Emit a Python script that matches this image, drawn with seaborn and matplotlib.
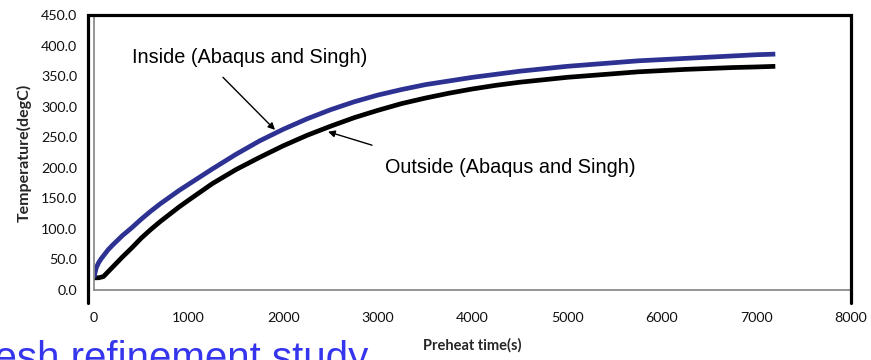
import matplotlib
matplotlib.use("Agg")
import matplotlib.pyplot as plt
import seaborn as sns
import pandas as pd
from matplotlib.lines import Line2D

# ---- data ----
inside_t = [0, 10, 25, 50, 75, 100, 150, 200, 300, 400, 500, 600, 700, 800, 900,
            1000, 1250, 1500, 1750, 2000, 2250, 2500, 2750, 3000, 3250, 3500,
            3750, 4000, 4250, 4500, 4750, 5000, 5250, 5500, 5750, 6000, 6250,
            6500, 6750, 7000, 7200]
inside_T = [20, 28, 37, 45, 51, 56, 66, 74, 89, 102, 116, 129, 141, 152, 163,
            173, 198, 222, 244, 263, 280, 295, 308, 319, 328, 336,
            342, 348, 353, 358, 362, 366, 369, 372, 375, 377, 379,
            381, 383, 385, 386]

outside_t = [0, 50, 100, 150, 200, 300, 400, 500, 600, 700, 800, 900,
             1000, 1250, 1500, 1750, 2000, 2250, 2500, 2750, 3000, 3250, 3500,
             3750, 4000, 4250, 4500, 4750, 5000, 5250, 5500, 5750, 6000, 6250,
             6500, 6750, 7000, 7200]
outside_T = [20, 20, 22, 30, 38, 54, 69, 85, 99, 112, 124, 136,
             147, 174, 197, 217, 236, 253, 268, 282, 294, 305, 314,
             322, 329, 335, 340, 344, 348, 351, 354, 357, 359, 361,
             362.5, 364, 365, 366]

x_ticks = [0, 1000, 2000, 3000, 4000, 5000, 6000, 7000, 8000]
y_ticks = [0, 50, 100, 150, 200, 250, 300, 350, 400, 450]

inside_label = "Inside (Abaqus and Singh)"
outside_label = "Outside (Abaqus and Singh)"
x_label = "Preheat time(s)"
y_label = "Temperature(degC)"
footer = "mesh refinement study"

df_in = pd.DataFrame({"t": inside_t, "T": inside_T})
df_out = pd.DataFrame({"t": outside_t, "T": outside_T})

sns.set_style("white")
plt.rcParams['font.family'] = ['Lato', 'DejaVu Sans']

W, H = 871, 360
fig = plt.figure(figsize=(W / 100, H / 100), dpi=100)
ax = fig.add_axes([94 / W, 1 - 290 / H, (851 - 94) / W, (290 - 15) / H])

sns.lineplot(data=df_out, x="t", y="T", ax=ax, color="black", linewidth=3.4,
             solid_capstyle="butt", solid_joinstyle="round")
sns.lineplot(data=df_in, x="t", y="T", ax=ax, color="#2d3192", linewidth=3.4,
             solid_capstyle="butt", solid_joinstyle="round")

ax.set_xlim(0, 8000)
ax.set_ylim(0, 450)
ax.set_xticks(x_ticks)
ax.set_yticks(y_ticks)
ax.set_yticklabels([f"{v:.1f}" for v in y_ticks])
ax.set_xticklabels([str(v) for v in x_ticks])

gray = "#8c8c8c"
for s in ["top", "right"]:
    ax.spines[s].set_visible(False)
for s in ["left", "bottom"]:
    ax.spines[s].set_color(gray)
    ax.spines[s].set_linewidth(1.3)
ax.tick_params(axis="both", which="major", direction="out", length=4,
               width=1.1, color=gray, labelsize=10.3, labelcolor="#111111")
ax.tick_params(axis="y", pad=8)
ax.tick_params(axis="x", pad=12)

ax.set_xlabel(x_label, fontsize=10.5, fontweight="bold", labelpad=10)
ax.set_ylabel(y_label, fontsize=11.5, fontweight="bold", labelpad=7)

ann_font = dict(family=["Liberation Sans", "DejaVu Sans"], fontsize=14.3,
                color="black")
arrow = dict(arrowstyle="-|>", color="black", lw=1.0, mutation_scale=10,
             shrinkA=0, shrinkB=0)
ax.text(402, 380, inside_label, ha="left", va="center", **ann_font)
ax.annotate("", xy=(1913, 262), xytext=(1363, 348), arrowprops=arrow)
ax.text(3075, 201, outside_label, ha="left", va="center", **ann_font)
ax.annotate("", xy=(2473, 259), xytext=(2938, 237), arrowprops=arrow)

# black frame around the chart (left, top, right)
fx0, fx1 = 87.5 / W, 851 / W
fy0, fy1 = 1 - 303 / H, 1 - 15 / H
fig.add_artist(Line2D([fx0, fx0, fx1, fx1], [fy0, fy1, fy1, fy0],
                      transform=fig.transFigure, color="black", linewidth=2.3,
                      solid_joinstyle="miter"))

# cut-off slide text at the bottom left (cut off in the reference too)
fig.text(368 / W, 1 - 370 / H, footer, ha="right", va="baseline",
         family=["Liberation Sans", "DejaVu Sans"], fontsize=29,
         color="#3535ee")

fig.savefig("out.png", dpi=100)
